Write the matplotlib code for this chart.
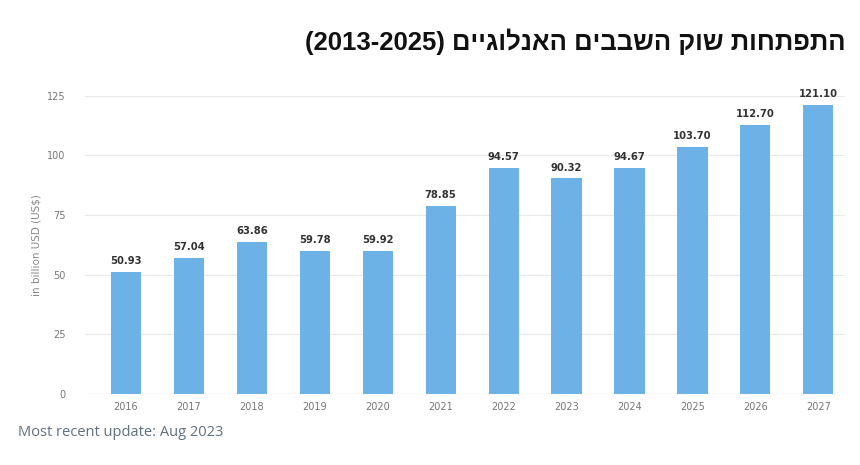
import matplotlib
matplotlib.use("Agg")
import matplotlib.pyplot as plt

years = ["2016", "2017", "2018", "2019", "2020", "2021", "2022", "2023", "2024", "2025", "2026", "2027"]
values = [50.93, 57.04, 63.86, 59.78, 59.92, 78.85, 94.57, 90.32, 94.67, 103.70, 112.70, 121.10]
y_ticks = [0, 25, 50, 75, 100, 125]

# Hebrew title written in visual (left-to-right) order since matplotlib has no bidi
title_logical = "התפתחות שוק השבבים האנלוגיים"
title_visual = "(2013-2025) " + title_logical[::-1]

fig = plt.figure(figsize=(8.6, 4.65), dpi=100)
ax = fig.add_axes([0.099, 0.153, 0.884, 0.641])

x = range(len(years))
ax.bar(x, values, width=0.48, color="#6cb2e6", zorder=3)
for i, v in enumerate(values):
    ax.text(i, v + 2.5, f"{v:.2f}", ha="center", va="bottom", fontsize=7.2,
            fontweight="bold", color="#333333", family="DejaVu Sans")

ax.set_xlim(-0.65, len(years) - 1 + 0.43)
ax.set_ylim(0, 125)
ax.set_yticks(y_ticks)
ax.set_xticks(list(x))
ax.set_xticklabels(years)
ax.tick_params(axis="both", length=0, labelsize=7, labelcolor="#777777")
ax.tick_params(axis="y", pad=14)
ax.tick_params(axis="x", pad=6)
ax.grid(axis="y", color="#e8e8e8", linewidth=0.8, zorder=0)
for s in ax.spines.values():
    s.set_visible(False)
ax.axhline(0, color="#d0d0d0", linewidth=0.8, zorder=2)
ax.set_ylabel("in billion USD (US$)", fontsize=7.5, color="#888888", labelpad=4)

fig.text(0.983, 0.91, title_visual, ha="right", va="center", fontsize=18.5,
         fontweight="bold", family="Liberation Sans", color="#111111")
fig.text(0.021, 0.07, "Most recent update: Aug 2023", ha="left", va="center",
         fontsize=10.5, color="#5f7080", family="Open Sans")

fig.savefig("out.png", dpi=100)
